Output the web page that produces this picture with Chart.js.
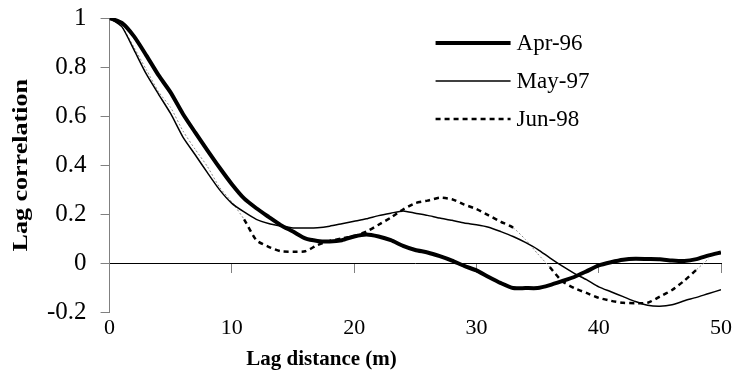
<!DOCTYPE html>
<html>
<head>
<meta charset="utf-8">
<script src="https://cdn.jsdelivr.net/npm/chart.js@4.4.0/dist/chart.umd.min.js"></script>
<style>
  html, body { margin: 0; padding: 0; background: #fff; }
  #wrap { width: 737px; height: 376px; }
</style>
</head>
<body>
<div id="wrap"><canvas id="lagChart"></canvas></div>
<script>
// lag distance in metres
var lags = [0, 1, 2, 3, 4, 5, 6, 7, 8, 9, 10, 11, 12, 13, 14, 15, 16, 17, 18, 19, 20,
            21, 22, 23, 24, 25, 26, 27, 28, 29, 30, 31, 32, 33, 34, 35, 36, 37, 38, 39, 40,
            41, 42, 43, 44, 45, 46, 47, 48, 49, 50];

var apr96 = [1.0, 0.98, 0.925, 0.848, 0.767, 0.696, 0.609, 0.534, 0.461, 0.39, 0.323,
             0.265, 0.225, 0.19, 0.156, 0.13, 0.102, 0.092, 0.09, 0.095, 0.11,
             0.118, 0.11, 0.095, 0.072, 0.055, 0.045, 0.03, 0.012, -0.01, -0.028,
             -0.055, -0.08, -0.1, -0.1, -0.1, -0.088, -0.072, -0.055, -0.032, -0.008,
             0.005, 0.015, 0.019, 0.018, 0.017, 0.012, 0.01, 0.018, 0.033, 0.045];

var may97 = [1.0, 0.965, 0.87, 0.772, 0.69, 0.61, 0.515, 0.443, 0.37, 0.3, 0.245,
             0.21, 0.18, 0.163, 0.153, 0.145, 0.145, 0.146, 0.152, 0.162, 0.172,
             0.182, 0.195, 0.205, 0.214, 0.205, 0.196, 0.185, 0.176, 0.165, 0.158,
             0.148, 0.13, 0.11, 0.086, 0.058, 0.023, -0.01, -0.04, -0.066, -0.095,
             -0.115, -0.135, -0.155, -0.17, -0.174, -0.168, -0.152, -0.138, -0.122, -0.107];

var jun98 = [1.0, 0.965, 0.88, 0.79, 0.70, 0.635, 0.54, 0.465, 0.395, 0.31, 0.25,
             0.18, 0.095, 0.068, 0.05, 0.048, 0.05, 0.075, 0.092, 0.102, 0.112,
             0.13, 0.158, 0.187, 0.22, 0.246, 0.256, 0.268, 0.262, 0.24, 0.222,
             0.196, 0.17, 0.146, 0.098, 0.04, -0.015, -0.072, -0.1, -0.12, -0.14,
             -0.152, -0.16, -0.162, -0.16, -0.135, -0.108, -0.07, -0.025, 0.02, null];

// stretches of the Jun-98 curve drawn as a faint thin line
var thinSpans = [[0, 11], [33, 36], [48, 49]];

var serif = '"Liberation Serif", "Times New Roman", serif';

function pairs(ys) {
    return lags.map(function(x, i) { return { x: x, y: ys[i] }; });
}

function inThin(ctx) {
    var x0 = ctx.p0.parsed.x, x1 = ctx.p1.parsed.x;
    return thinSpans.some(function(s) { return x0 >= s[0] && x1 <= s[1]; });
}

// legend box and axis titles
var annotate = {
    id: 'annotate',
    afterDraw: function(chart) {
        var c = chart.ctx, a = chart.chartArea;
        c.save();
        chart.data.datasets.forEach(function(ds, i) {
            var y = a.top + 25 + i * 38;
            c.beginPath();
            c.lineWidth = ds.borderWidth;
            c.strokeStyle = ds.borderColor;
            c.setLineDash(ds.borderDash || []);
            c.moveTo(a.left + 326, y);
            c.lineTo(a.left + 401, y);
            c.stroke();
            c.setLineDash([]);
            c.fillStyle = '#000';
            c.font = '23px ' + serif;
            c.textAlign = 'left';
            c.textBaseline = 'middle';
            c.fillText(ds.label, a.left + 407, y + 1);
        });

        c.fillStyle = '#000';
        c.textAlign = 'center';
        c.textBaseline = 'middle';
        c.font = 'bold 21px ' + serif;
        c.fillText('Lag distance (m)', a.left + 212, 360);

        c.translate(22, (a.top + a.bottom) / 2);
        c.rotate(-Math.PI / 2);
        c.scale(1.24, 1);
        c.fillText('Lag correlation', 0, 0);
        c.restore();
    }
};

new Chart(document.getElementById('lagChart').getContext('2d'), {
    type: 'line',
    data: {
        datasets: [{
            label: 'Apr-96',
            data: pairs(apr96),
            borderColor: '#000',
            borderWidth: 4,
            pointRadius: 0,
            tension: 0.2
        }, {
            label: 'May-97',
            data: pairs(may97),
            borderColor: '#000',
            borderWidth: 1.5,
            pointRadius: 0,
            tension: 0.2
        }, {
            label: 'Jun-98',
            data: pairs(jun98),
            borderColor: '#000',
            borderWidth: 2.5,
            borderDash: [5, 4],
            pointRadius: 0,
            tension: 0.2,
            segment: {
                borderWidth: function(ctx) { return inThin(ctx) ? 1 : undefined; },
                borderColor: function(ctx) { return inThin(ctx) ? '#8a8a8a' : undefined; },
                borderDash: function(ctx) { return inThin(ctx) ? [2, 2] : undefined; }
            }
        }]
    },
    options: {
        responsive: true,
        maintainAspectRatio: false,
        animation: false,
        layout: { padding: { left: 33, right: 16, top: 18, bottom: 33 } },
        plugins: { legend: { display: false }, tooltip: { enabled: false } },
        scales: {
            x: {
                type: 'linear', min: 0, max: 50,
                position: { y: 0 },
                ticks: { display: false, stepSize: 10 },
                grid: { drawOnChartArea: false, tickLength: 9, color: '#808080' },
                border: { color: '#000', width: 1 }
            },
            xb: {
                type: 'linear', min: 0, max: 50,
                position: 'bottom',
                ticks: { stepSize: 10, color: '#000', padding: 2, font: { family: serif, size: 22 } },
                grid: { display: false, drawTicks: false },
                border: { display: false }
            },
            y: {
                min: -0.2, max: 1,
                ticks: {
                    stepSize: 0.2, color: '#000', padding: 14,
                    font: { family: serif, size: 25 },
                    callback: function(v) { return String(Math.round(v * 10) / 10); }
                },
                grid: { drawOnChartArea: false, tickLength: 9, color: '#808080' },
                border: { color: '#808080', width: 1 },
                // labels may run past the plot edges; keep the plot area fixed
                afterFit: function(scale) { scale.paddingTop = 0; scale.paddingBottom = 0; }
            }
        }
    },
    plugins: [annotate]
});
</script>
</body>
</html>
